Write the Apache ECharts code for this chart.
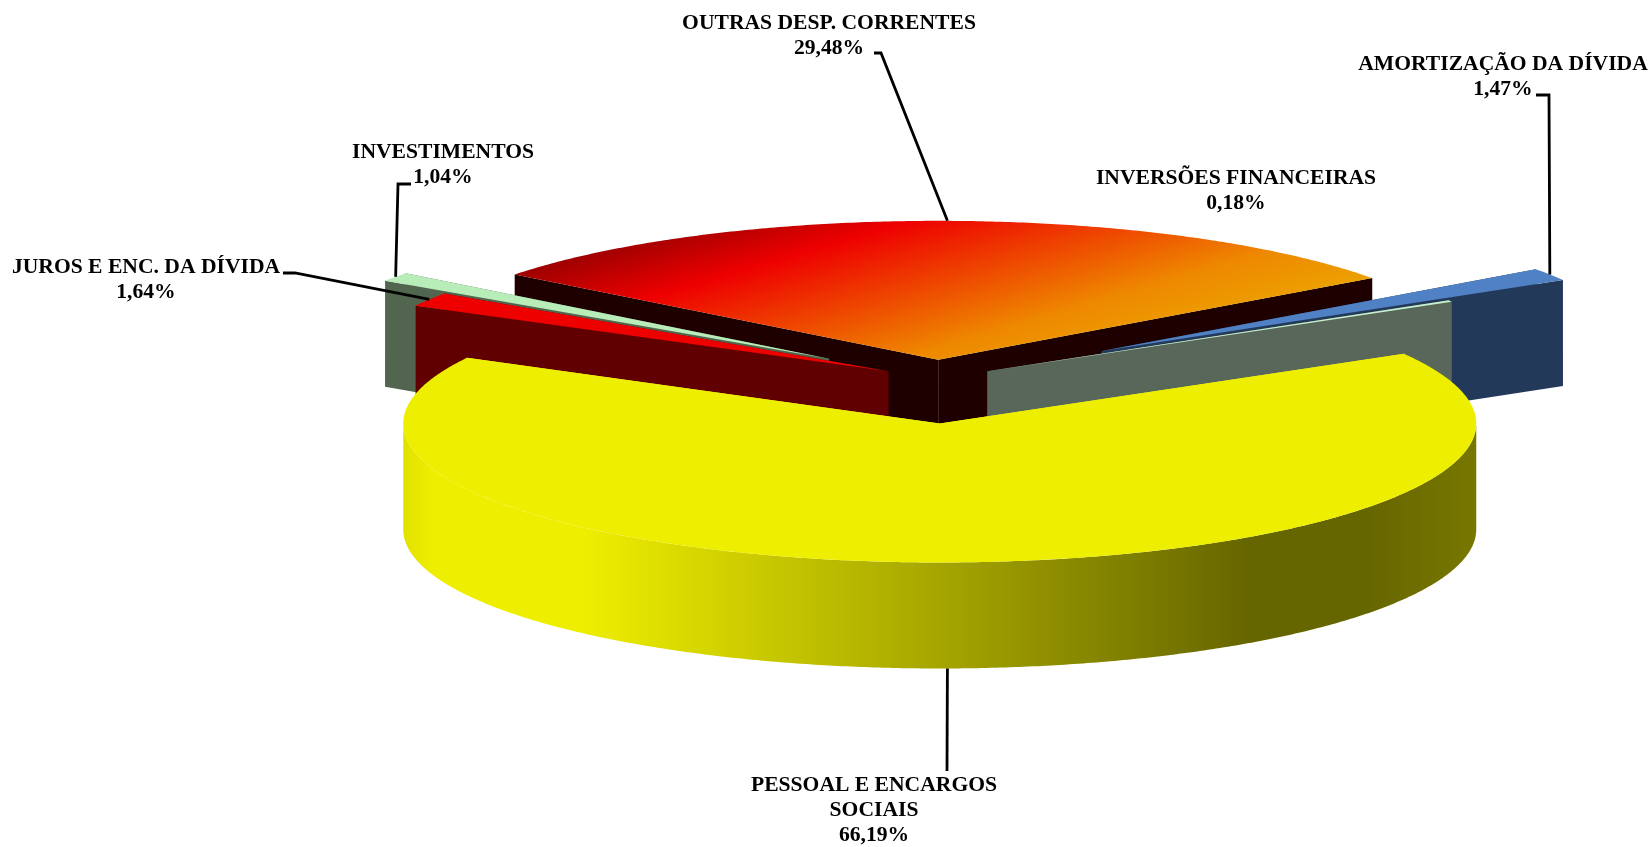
<!DOCTYPE html>
<html>
<head>
<meta charset="utf-8">
<style>html,body{margin:0;padding:0;background:#fff}#chart{width:1651px;height:847px}</style>
<script src="https://cdn.jsdelivr.net/npm/echarts@6/dist/echarts.min.js"></script>
</head>
<body>
<div id="chart"></div>
<script>
// ---- data, counter-clockwise from the first slice ----
const categories = ['OUTRAS DESP. CORRENTES', 'INVESTIMENTOS', 'JUROS E ENC. DA DÍVIDA', 'PESSOAL E ENCARGOS\nSOCIAIS', 'INVERSÕES FINANCEIRAS', 'AMORTIZAÇÃO DA DÍVIDA'];
const shares = [29.48, 1.04, 1.64, 66.19, 0.18, 1.47];
const explode = [0.138, 0.2485, 0.106, 0.32, 0.109, 0.3675];

// ---- styling and layout ----
const topColors = [null, '#b8ecb8', '#ee0000', '#eeee00', '#c6efce', '#4f81c4'];
const wallColors = ['#1e0000', '#52664f', '#600000', '#eeee00', '#59675a', '#23395a'];
const drawOrder = [0, 1, 5, 2, 4, 3];
const labelAnchors = [[829, 11], [443, 140], [146, 255], [874, 773], [1236, 166], [1503, 52]];
const leaderElbows = [
  [[874, 53], [881, 53]],
  [[411, 184], [398, 184]],
  [[283, 273], [295, 273]],
  [[947, 771]],
  null,
  [[1536, 95], [1549, 95]]
];
const leaderAngleShift = [-0.05, -0.1, 0, -0.1, 0, 0];
const leaderOnWallBottom = [false, false, false, true, false, false];
const base = { x: 937, y: 379, a: 536.5, b: 139, h: 106 };
const startAngle = 36;

const RAD = Math.PI / 180;
const total = shares.reduce((s, v) => s + v, 0);
const slices = [];
shares.reduce((acc, v, i) => {
  const from = acc, to = acc + v / total * 360, mid = (from + to) / 2;
  const e = explode[i];
  slices.push({
    from, to, mid,
    cx: base.x + e * base.a * Math.cos(mid * RAD),
    cy: base.y - e * base.b * Math.sin(mid * RAD)
  });
  return to;
}, startAngle);

function rim(s, deg, dz) {
  return [s.cx + base.a * Math.cos(deg * RAD), s.cy - base.b * Math.sin(deg * RAD) + (dz || 0)];
}
function arc(s, from, to, dz) {
  const pts = [], n = Math.max(2, Math.ceil((to - from) * 2));
  for (let k = 0; k <= n; k++) pts.push(rim(s, from + (to - from) * k / n, dz));
  return pts;
}
function poly(points, fill) {
  return { type: 'polygon', shape: { points }, style: { fill, stroke: 'none' }, silent: true };
}
function gradientAlong(nx, ny, s0, s1, stops) {
  return new echarts.graphic.LinearGradient(nx * s0, ny * s0, nx * s1, ny * s1, stops, true);
}
const outrasFill = gradientAlong(0.285, 0.958, 405, 660, [
  { offset: 0, color: '#980000' },
  { offset: 0.259, color: '#ee0000' },
  { offset: 0.773, color: '#ee8800' },
  { offset: 1, color: '#eca200' }
]);
const sideFill = new echarts.graphic.LinearGradient(base.x - base.a, 0, base.x + base.a, 0, [
  { offset: 0, color: '#e0e000' },
  { offset: 0.03, color: '#eeee00' },
  { offset: 0.17, color: '#eeee00' },
  { offset: 0.79, color: '#666600' },
  { offset: 0.9, color: '#666600' },
  { offset: 1, color: '#777700' }
], true);

function renderSlice(params, api) {
  const i = api.value(0);
  const s = slices[i], h = base.h;
  const apex = [s.cx, s.cy], apexB = [s.cx, s.cy + h];
  const children = [];
  // radial faces
  [s.from, s.to].forEach(d => {
    children.push(poly([apex, rim(s, d), rim(s, d, h), apexB], wallColors[i]));
  });
  // outer face, only where it turns toward the viewer
  [[180, 360], [540, 720]].forEach(([lo, hi]) => {
    const f = Math.max(s.from, lo), t = Math.min(s.to, hi);
    if (t > f) {
      children.push(poly(arc(s, f, t, 0).concat(arc(s, f, t, h).reverse()), i === 3 ? sideFill : wallColors[i]));
    }
  });
  // top
  children.push(poly([apex].concat(arc(s, s.from, s.to, 0)), i === 0 ? outrasFill : topColors[i]));
  return { type: 'group', children };
}

function renderLabels(params, api) {
  const i = api.value(0);
  const s = slices[i];
  const children = [];
  if (leaderElbows[i]) {
    const end = rim(s, s.mid + leaderAngleShift[i], leaderOnWallBottom[i] ? base.h : 0);
    children.push({
      type: 'polyline',
      shape: { points: leaderElbows[i].concat([end]) },
      style: { stroke: '#000', lineWidth: 2.8, fill: 'none' },
      silent: true
    });
  }
  children.push({
    type: 'text',
    x: labelAnchors[i][0], y: labelAnchors[i][1],
    style: {
      text: categories[i] + '\n' + shares[i].toFixed(2).replace('.', ',') + '%',
      fontFamily: '"Liberation Serif"', fontWeight: 'bold', fontSize: 21.6,
      lineHeight: 25, fill: '#000', align: 'center', verticalAlign: 'top'
    },
    silent: true
  });
  return { type: 'group', children };
}

const chart = echarts.init(document.getElementById('chart'), null, { renderer: 'canvas' });
chart.setOption({
  backgroundColor: '#ffffff',
  animation: false,
  series: [
    { type: 'custom', coordinateSystem: 'none', renderItem: renderSlice, data: drawOrder.map(i => [i]), silent: true, z: 1 },
    { type: 'custom', coordinateSystem: 'none', renderItem: renderLabels, data: categories.map((c, i) => [i]), silent: true, z: 2 }
  ]
});
</script>
</body>
</html>
